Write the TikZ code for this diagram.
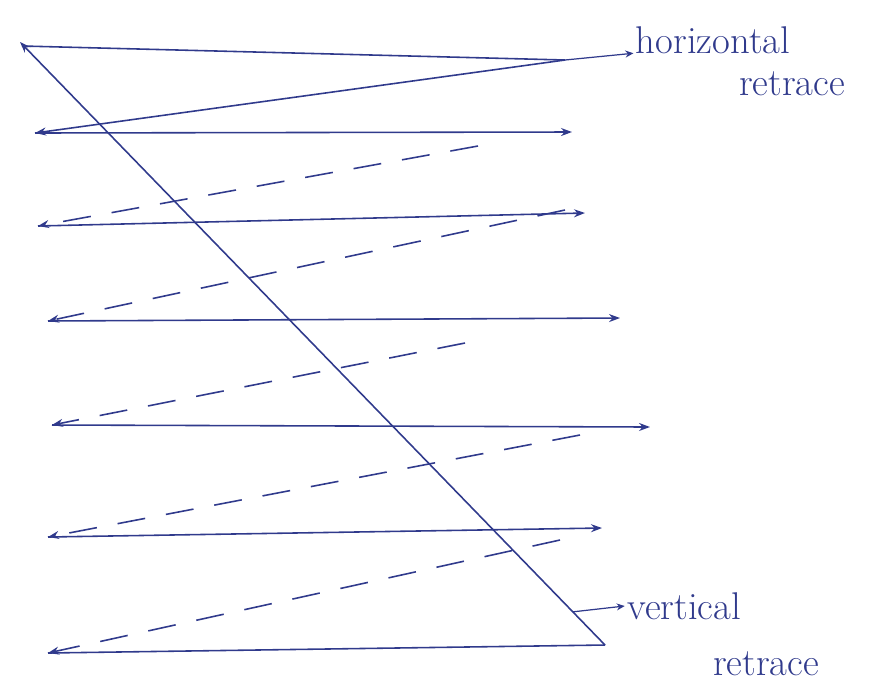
\documentclass[tikz,border=0pt]{standalone}
\usepackage{tikz}
\usetikzlibrary{arrows.meta,positioning,calc}

\definecolor{ink}{RGB}{48,58,140}

\begin{document}
\begin{tikzpicture}[x=0.02cm,y=-0.02cm,ink,line width=0.9pt]
      \tikzset{
        scanline/.style={-{Stealth[length=2.2mm,width=1.6mm]}},
        retrace/.style={-{Stealth[length=2.2mm,width=1.6mm]},dash pattern=on 16pt off 12pt},
        labeltext/.style={inner sep=1pt,font=\fontsize{22}{26}\selectfont},
      }
      \useasboundingbox (0,0) rectangle (871,684);
      % line ends
      \coordinate (s1) at (22,46);  \coordinate (e1) at (565,60);
      \coordinate (s2) at (35,133); \coordinate (e2) at (572,132);
      \coordinate (s3) at (38,226); \coordinate (e3) at (585,213);
      \coordinate (s4) at (48,321); \coordinate (e4) at (620,318);
      \coordinate (s5) at (52,425); \coordinate (e5) at (650,427);
      \coordinate (s6) at (48,537); \coordinate (e6) at (602,528);
      \coordinate (s7) at (48,653); \coordinate (e7) at (605,645);
      % where the dashed retraces start
      \coordinate (r2) at (478,146);
      \coordinate (r3) at (565,210);
      \coordinate (r4) at (465,343);
      \coordinate (r5) at (580,435);
      \coordinate (r6) at (560,540);
      \coordinate (vt) at (20,42);
      % horizontal scan lines
      \draw (s1)--(e1);
      \draw[scanline] (s2)--(e2);
      \draw[scanline] (s3)--(e3);
      \draw[scanline] (s4)--(e4);
      \draw[scanline] (s5)--(e5);
      \draw[scanline] (s6)--(e6);
      \draw (s7)--(e7);
      % retraces
      \draw[scanline] (e1)--(s2);
      \draw[retrace] (r2)--(s3);
      \draw[retrace] (r3)--(s4);
      \draw[retrace] (r4)--(s5);
      \draw[retrace] (r5)--(s6);
      \draw[retrace] (r6)--(s7);
      \draw[scanline] (e7)--(vt);
      % labels
      \node[labeltext] (hlab) at (713,40) {horizontal};
      \node[labeltext] (hlab2) at (792,84) {retrace};
      \node[labeltext] (vlab) at (684,606) {vertical};
      \node[labeltext] (vlab2) at (766,664) {retrace};
      \draw[-{Stealth[length=1.6mm,width=1.4mm]},line width=0.7pt] (e1)--(hlab.base west);
      \draw[-{Stealth[length=1.6mm,width=1.4mm]},line width=0.7pt] ($(e7)!0.055!(vt)$)--(vlab.west);
    \end{tikzpicture}
\end{document}
